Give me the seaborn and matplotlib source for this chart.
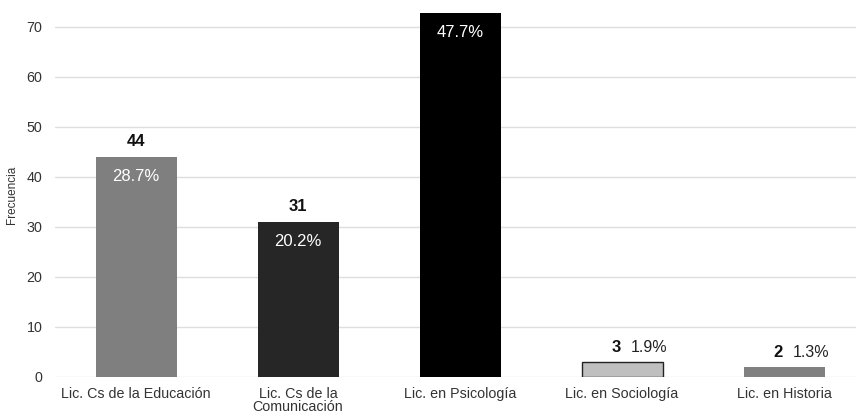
import matplotlib
matplotlib.use("Agg")
import matplotlib.pyplot as plt
import seaborn as sns
import pandas as pd

carreras = ["Lic. Cs de la Educación", "Lic. Cs de la\nComunicación",
            "Lic. en Psicología", "Lic. en Sociología", "Lic. en Historia"]
frecuencia = [44, 31, 73, 3, 2]
porcentaje = [28.7, 20.2, 47.7, 1.9, 1.3]
colores = ["#7f7f7f", "#262626", "#000000", "#bfbfbf", "#808080"]

sns.set_theme(style="white")
plt.rcParams["font.family"] = ["Liberation Sans", "DejaVu Sans"]

df = pd.DataFrame({"carrera": carreras, "frecuencia": frecuencia})

fig = plt.figure(figsize=(8.56, 4.16), dpi=100)
ax = fig.add_axes([55 / 856, 39 / 416, 810 / 856, 364 / 416])

sns.barplot(data=df, x="carrera", y="frecuencia", hue="carrera",
            palette=dict(zip(carreras, colores)), width=0.5,
            legend=False, ax=ax, zorder=3)

# outline only the light bar
for patch, col in zip(ax.patches, colores):
    if col == "#bfbfbf":
        patch.set_edgecolor("#222222")
        patch.set_linewidth(1.0)
    else:
        patch.set_edgecolor("none")

ytop = 72.8
ax.set_ylim(0, ytop)
ax.set_xlim(-0.5, len(carreras) - 0.5)
ax.set_yticks(range(0, 71, 10))
ax.yaxis.grid(True, color="#dedede", linewidth=1.0, zorder=0)
ax.set_axisbelow(True)
for s in ax.spines.values():
    s.set_visible(False)
ax.tick_params(axis="y", length=0, labelsize=10.3, colors="#333333", pad=9)
ax.tick_params(axis="x", length=0, labelsize=10.3, colors="#333333", pad=7.5)
for lbl in ax.get_xticklabels():
    lbl.set_linespacing(0.9)
ax.set_xlabel("")
ax.set_ylabel("Frecuencia", fontsize=8.5, color="#333333", labelpad=6)

for i, (v, p) in enumerate(zip(frecuencia, porcentaje)):
    top = min(v, ytop)
    if v >= 10:
        ax.annotate(f"{v}", (i, v), xytext=(0, 6), textcoords="offset points",
                    ha="center", va="bottom", fontsize=12, fontweight="bold",
                    color="#111111", annotation_clip=True)
        ax.annotate(f"{p}%", (i, top), xytext=(0, -14), textcoords="offset points",
                    ha="center", va="center", fontsize=12, color="white")
    else:
        ax.annotate(f"{v}", (i, v), xytext=(-4, 5), textcoords="offset points",
                    ha="center", va="bottom", fontsize=12, fontweight="bold",
                    color="#111111")
        ax.annotate(f"{p}%", (i, v), xytext=(6, 5), textcoords="offset points",
                    ha="left", va="bottom", fontsize=11.5, color="#222222")

fig.savefig("out.png", dpi=100)
